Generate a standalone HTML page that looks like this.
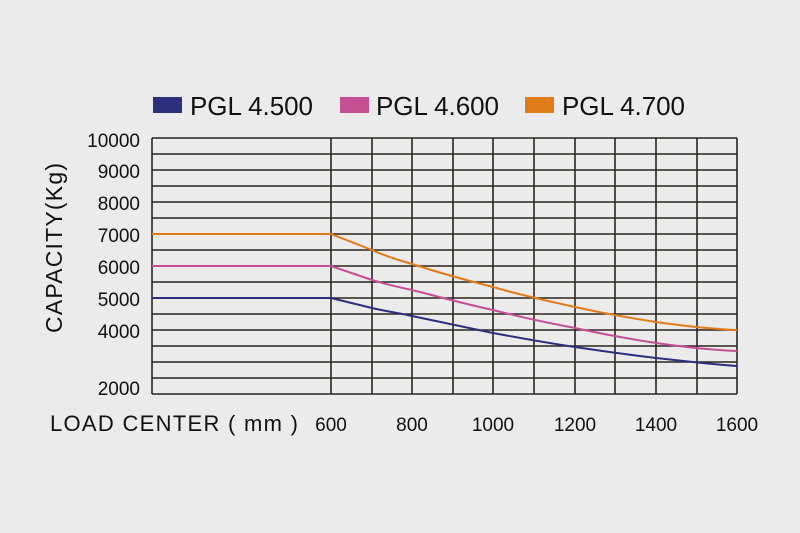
<!DOCTYPE html>
<html><head><meta charset="utf-8"><style>
body{margin:0;background:#ebebeb;}
svg{display:block;font-family:"Liberation Sans",sans-serif;}
</style></head><body>
<svg width="800" height="533" viewBox="0 0 800 533">
<rect width="800" height="533" fill="#ebebeb"/>
<!-- legend -->
<rect x="153" y="97" width="29" height="16" fill="#2b2f7e"/>
<text x="190" y="115" font-size="26" fill="#111" textLength="123">PGL 4.500</text>
<rect x="340" y="97" width="29" height="16" fill="#c44f93"/>
<text x="376" y="115" font-size="26" fill="#111" textLength="123">PGL 4.600</text>
<rect x="525" y="97" width="29" height="16" fill="#e07b1a"/>
<text x="562" y="115" font-size="26" fill="#111" textLength="123">PGL 4.700</text>
<!-- grid -->
<g stroke="#2a2420" stroke-width="1.6" fill="none">
<path d="M152,138H737M152,154H737M152,170H737M152,186H737M152,202H737M152,218H737M152,234H737M152,250H737M152,266H737M152,282H737M152,298H737M152,314H737M152,330H737M152,346H737M152,362H737M152,378H737M152,394H737"/>
<path d="M152,138V394M331,138V394M372,138V394M412,138V394M453,138V394M493,138V394M534,138V394M575,138V394M615,138V394M656,138V394M697,138V394M737,138V394"/>
</g>
<!-- curves -->
<g fill="none" stroke-width="2">
<path stroke="#e07b1a" d="M152,234H331L372,250C385,256 398,260 412,264C440,273 465,280 493,287C520,295 548,301 575,307C602,313 630,318 656,322C684,326 710,329 737,330"/>
<path stroke="#c44f93" d="M152,266H331L372,280C385,284 398,287 412,290C440,297 465,304 493,310C520,317 548,323 575,328C602,334 630,339 656,343C684,347 710,350 737,351"/>
<path stroke="#2b2f7e" d="M152,298H331L372,308C385,311 398,313 412,316C440,322 465,327 493,333C520,338 548,343 575,347C602,351 630,355 656,358C684,361 710,364 737,366"/>
</g>
<!-- y labels -->
<g font-size="19" fill="#111" text-anchor="end">
<text x="140" y="147">10000</text>
<text x="140" y="178">9000</text>
<text x="140" y="210">8000</text>
<text x="140" y="242">7000</text>
<text x="140" y="274">6000</text>
<text x="140" y="306">5000</text>
<text x="140" y="338">4000</text>
<text x="140" y="395">2000</text>
</g>
<text transform="translate(62,248) rotate(-90)" font-size="23" fill="#111" text-anchor="middle" textLength="170">CAPACITY(Kg)</text>
<!-- x labels -->
<g font-size="19" fill="#111" text-anchor="middle">
<text x="331" y="431">600</text>
<text x="412" y="431">800</text>
<text x="493" y="431">1000</text>
<text x="575" y="431">1200</text>
<text x="656" y="431">1400</text>
<text x="737" y="431">1600</text>
</g>
<text x="50" y="431" font-size="22" fill="#111" textLength="248">LOAD CENTER ( mm )</text>
</svg>
</body></html>
